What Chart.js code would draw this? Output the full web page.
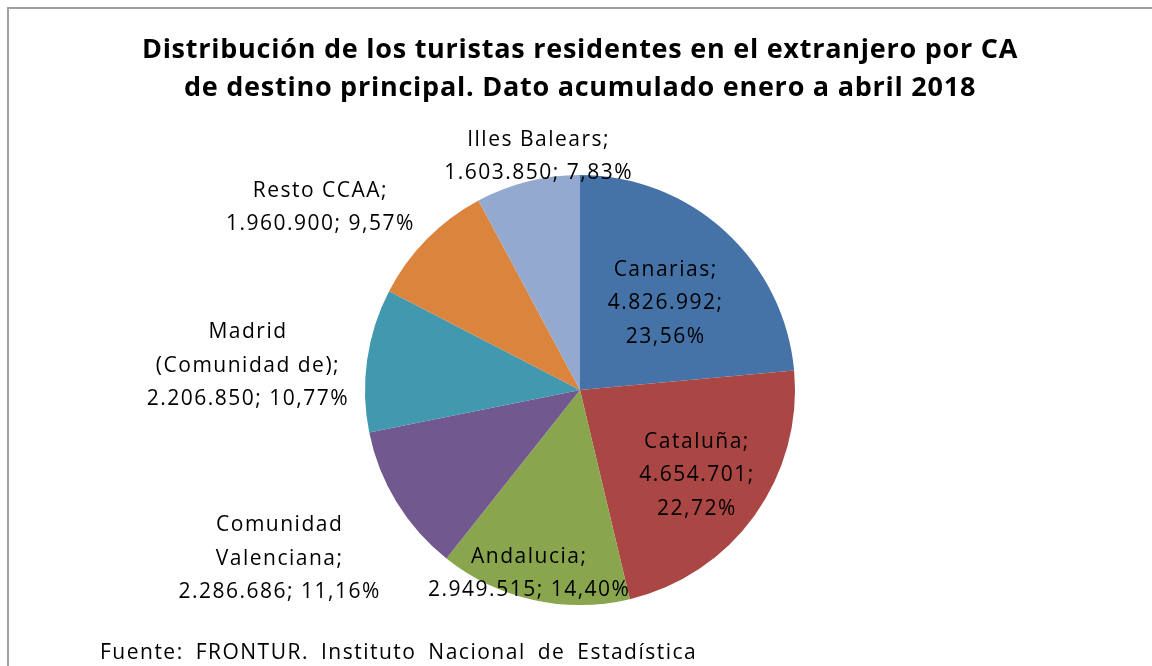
<!DOCTYPE html>
<html>
<head>
<meta charset="utf-8">
<script src="https://cdn.jsdelivr.net/npm/chart.js@4.4.1/dist/chart.umd.min.js"></script>
<style>
  html, body { margin: 0; padding: 0; background: #fff; }
  #wrap { position: relative; width: 1152px; height: 666px; overflow: hidden; }
  #frame { position: absolute; left: 7px; top: 7px; width: 1160px; height: 680px; border: 2px solid #a0a0a0; box-sizing: border-box; }
  canvas { position: absolute; left: 0; top: 0; }
</style>
</head>
<body>
<div id="wrap">
  <div id="frame"></div>
  <canvas id="c" width="1152" height="666"></canvas>
</div>
<script>
const categories = ["Canarias", "Cataluña", "Andalucia", "Comunidad Valenciana", "Madrid (Comunidad de)", "Resto CCAA", "Illes Balears"];
const visitors = [4826992, 4654701, 2949515, 2286686, 2206850, 1960900, 1603850];
const percentLabels = ["23,56%", "22,72%", "14,40%", "11,16%", "10,77%", "9,57%", "7,83%"];
const labelLines = [
  ["Canarias;", "4.826.992;", "23,56%"],
  ["Cataluña;", "4.654.701;", "22,72%"],
  ["Andalucia;", "2.949.515; 14,40%"],
  ["Comunidad", "Valenciana;", "2.286.686; 11,16%"],
  ["Madrid", "(Comunidad de);", "2.206.850; 10,77%"],
  ["Resto CCAA;", "1.960.900; 9,57%"],
  ["Illes Balears;", "1.603.850; 7,83%"]
];
const colors = ["#4572A7", "#AA4643", "#89A54E", "#71588F", "#4198AF", "#DB843D", "#93A9CF"];
const titleLines = ["Distribución de los turistas residentes en el extranjero por CA", "de destino principal. Dato acumulado enero a abril 2018"];
const footerText = "Fuente: FRONTUR. Instituto Nacional de Estadística";

// label placement: radial factor relative to arc radius, plus pixel nudge
const labelPlacement = [
  { f: 0.57, dx: 3, dy: 4 },
  { f: 0.67, dx: 0, dy: 1 },
  { f: 0.875, dx: -10, dy: 0 },
  { f: 1.6, dx: -7, dy: -11 },
  { f: 1.55, dx: -2, dy: 22 },
  { f: 1.48, dx: -33, dy: 41 },
  { f: 1.116, dx: 17, dy: -1 }
];

const FONT = "'Open Sans', 'Noto Sans', sans-serif";

const textPlugin = {
  id: 'textLayer',
  afterDatasetsDraw(chart) {
    const ctx = chart.ctx;
    const meta = chart.getDatasetMeta(0);
    ctx.save();
    ctx.fillStyle = "#000";
    ctx.textBaseline = "middle";

    // title
    ctx.textAlign = "center";
    ctx.font = "bold 27px " + FONT;
    try { ctx.letterSpacing = "0.75px"; ctx.wordSpacing = "0px"; } catch (e) {}
    titleLines.forEach((t, k) => ctx.fillText(t, 580, 50 + k * 38));

    // slice labels
    ctx.font = "21px " + FONT;
    try { ctx.letterSpacing = "1.5px"; ctx.wordSpacing = "0px"; } catch (e) {}
    const lh = 33.5;
    meta.data.forEach((arc, i) => {
      const p = arc.getProps(['x', 'y', 'startAngle', 'endAngle', 'outerRadius'], true);
      const mid = (p.startAngle + p.endAngle) / 2;
      const pl = labelPlacement[i];
      const cx = p.x + Math.cos(mid) * p.outerRadius * pl.f + pl.dx;
      const cy = p.y + Math.sin(mid) * p.outerRadius * pl.f + pl.dy;
      const lines = labelLines[i];
      const y0 = cy - (lines.length - 1) * lh / 2;
      lines.forEach((t, k) => ctx.fillText(t, cx, y0 + k * lh));
    });

    // footer
    ctx.textAlign = "left";
    try { ctx.letterSpacing = "1.5px"; ctx.wordSpacing = "5px"; } catch (e) {}
    ctx.fillText(footerText, 100, 653);
    ctx.restore();
  }
};

new Chart(document.getElementById('c'), {
  type: 'pie',
  data: {
    labels: categories,
    datasets: [{
      data: visitors,
      backgroundColor: colors,
      borderWidth: 0
    }]
  },
  options: {
    responsive: false,
    animation: false,
    rotation: 0,
    layout: { padding: { top: 175, left: 200, right: 192, bottom: 61 } },
    plugins: {
      legend: { display: false },
      tooltip: { enabled: false },
      title: { display: false }
    }
  },
  plugins: [textPlugin]
});
</script>
</body>
</html>
